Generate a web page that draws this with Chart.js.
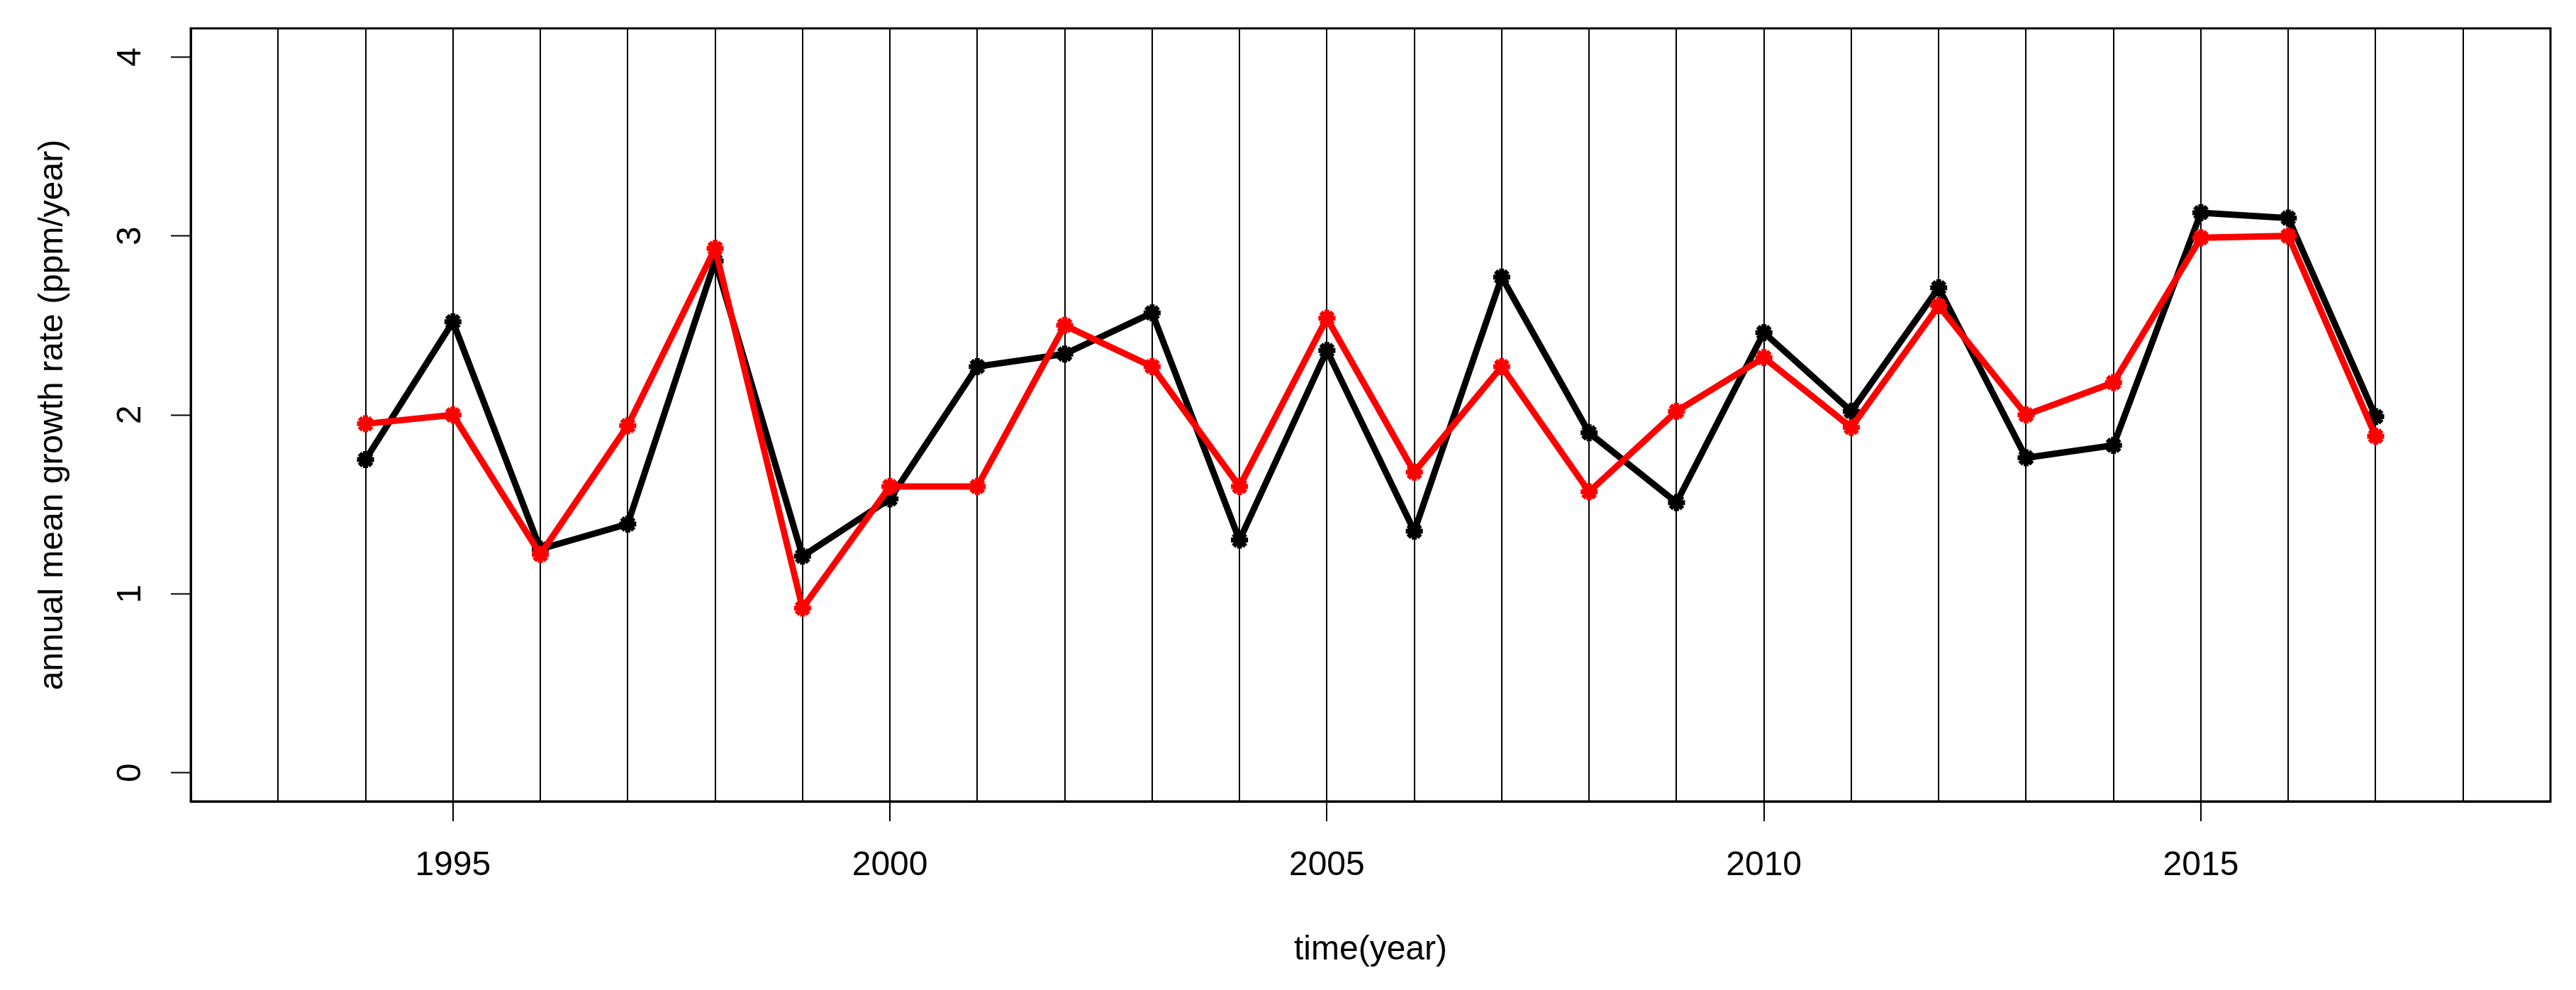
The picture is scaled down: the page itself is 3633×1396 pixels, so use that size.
<!DOCTYPE html>
<html>
<head>
<meta charset="utf-8">
<script src="https://cdn.jsdelivr.net/npm/chart.js@4.4.1/dist/chart.umd.min.js"></script>
<style>
  html, body { margin: 0; padding: 0; background: #fff; }
  #wrap { width: 3633px; height: 1396px; }
</style>
</head>
<body>
<div id="wrap"><canvas id="growthChart" width="3633" height="1396"></canvas></div>
<script>
// years and growth rates
const years = [1994, 1995, 1996, 1997, 1998, 1999, 2000, 2001, 2002, 2003, 2004, 2005,
               2006, 2007, 2008, 2009, 2010, 2011, 2012, 2013, 2014, 2015, 2016, 2017];
const blackSeries = [1.75, 2.52, 1.25, 1.39, 2.86, 1.21, 1.53, 2.27, 2.34, 2.57, 1.30, 2.36,
                     1.35, 2.77, 1.90, 1.51, 2.46, 2.02, 2.71, 1.76, 1.83, 3.13, 3.10, 1.99];
const redSeries = [1.95, 2.00, 1.22, 1.94, 2.93, 0.92, 1.60, 1.60, 2.50, 2.27, 1.60, 2.54,
                   1.68, 2.27, 1.57, 2.02, 2.32, 1.93, 2.61, 2.00, 2.18, 2.99, 3.00, 1.88];

// vertical lines every year, labels every 5
const gridYears = [1993, 1994, 1995, 1996, 1997, 1998, 1999, 2000, 2001, 2002, 2003, 2004, 2005,
                   2006, 2007, 2008, 2009, 2010, 2011, 2012, 2013, 2014, 2015, 2016, 2017, 2018];
const yTicks = [0, 1, 2, 3, 4];

const FONT = "'Liberation Sans', Arial, sans-serif";

const toPoints = (vals) => vals.map((v, i) => ({ x: years[i], y: v }));

// box around the plot region, like R's box()
const boxPlugin = {
    id: 'box',
    afterDraw(chart) {
        const { ctx, chartArea: a } = chart;
        ctx.save();
        ctx.strokeStyle = '#000';
        ctx.lineWidth = 3;
        ctx.strokeRect(a.left, a.top, a.right - a.left, a.bottom - a.top);
        ctx.restore();
    }
};

const ctx = document.getElementById('growthChart').getContext('2d');
const growthChart = new Chart(ctx, {
    type: 'line',
    data: {
        datasets: [{
            data: toPoints(blackSeries),
            borderColor: '#000',
            backgroundColor: '#000',
            borderWidth: 9,
            pointStyle: 'star',
            pointRadius: 12,
            pointBorderWidth: 7,
            pointBorderColor: '#000',
            tension: 0,
            order: 2,
        }, {
            data: toPoints(redSeries),
            borderColor: '#ff0000',
            backgroundColor: '#ff0000',
            borderWidth: 9,
            pointStyle: 'star',
            pointRadius: 12,
            pointBorderWidth: 7,
            pointBorderColor: '#ff0000',
            tension: 0,
            order: 1,
        }]
    },
    options: {
        responsive: false,
        devicePixelRatio: 1,
        animation: false,
        layout: { padding: { left: 0, right: 36, top: 40, bottom: 0 } },
        plugins: {
            legend: { display: false },
            tooltip: { enabled: false },
        },
        scales: {
            x: {
                type: 'linear',
                min: 1992,
                max: 2019,
                afterBuildTicks: (scale) => { scale.ticks = gridYears.map(v => ({ value: v })); },
                afterFit: (scale) => {
                    scale.height = 266;
                    scale.paddingLeft = 0;
                    scale.paddingRight = 0;
                },
                ticks: {
                    callback: (v) => (v % 5 === 0 ? String(v) : ''),
                    font: { family: FONT, size: 48 },
                    color: '#000',
                    padding: 34,
                    maxRotation: 0,
                    minRotation: 0,
                    autoSkip: false,
                },
                grid: {
                    color: '#000',
                    lineWidth: 2,
                    drawTicks: true,
                    tickLength: 28,
                    tickWidth: 2,
                    tickColor: (c) => (c.tick && c.tick.value % 5 === 0 ? '#000' : 'rgba(0,0,0,0)'),
                },
                border: { display: true, color: '#000', width: 3 },
                title: {
                    display: true,
                    text: 'time(year)',
                    font: { family: FONT, size: 48 },
                    color: '#000',
                    padding: { top: 0, bottom: 27 },
                },
            },
            y: {
                type: 'linear',
                min: -0.16,
                max: 4.16,
                afterBuildTicks: (scale) => { scale.ticks = yTicks.map(v => ({ value: v })); },
                afterFit: (scale) => {
                    scale.width = 269;
                    scale.paddingTop = 0;
                    scale.paddingBottom = 0;
                },
                ticks: {
                    font: { family: FONT, size: 48 },
                    color: '#000',
                    padding: 43,
                    minRotation: 90,
                    maxRotation: 90,
                    crossAlign: 'center',
                },
                grid: {
                    drawOnChartArea: false,
                    drawTicks: true,
                    tickLength: 28,
                    tickWidth: 2,
                    tickColor: '#000',
                },
                border: { display: true, color: '#000', width: 3 },
                title: {
                    display: true,
                    text: 'annual mean growth rate (ppm/year)',
                    font: { family: FONT, size: 48 },
                    color: '#000',
                    padding: { top: 46, bottom: 0 },
                },
            },
        },
    },
    plugins: [boxPlugin],
});
</script>
</body>
</html>
